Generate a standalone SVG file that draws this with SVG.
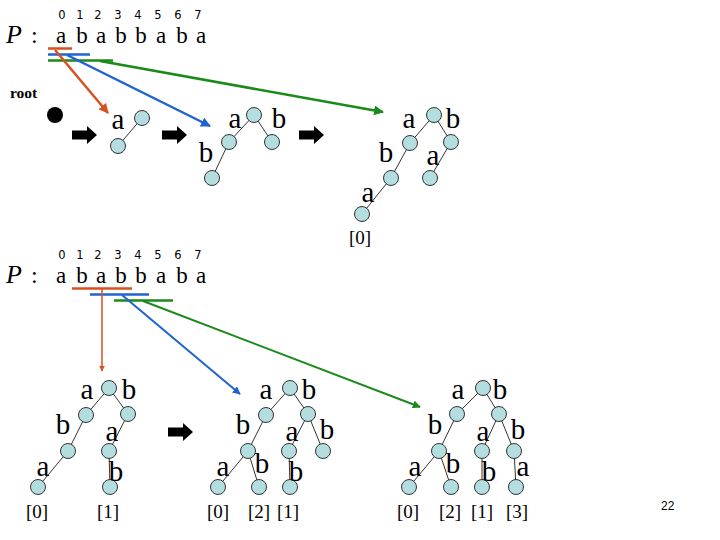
<svg xmlns="http://www.w3.org/2000/svg" xmlns:xlink="http://www.w3.org/1999/xlink" width="720" height="540" viewBox="0 0 720 540">
<style>
.dig{font-family:"DejaVu Sans","Liberation Sans",sans-serif;font-size:11.5px;fill:#000;text-anchor:middle}
.pl{font-family:"Liberation Serif",serif;font-size:26px;fill:#000;font-style:italic}
.col{font-family:"Liberation Serif",serif;font-size:24px;fill:#000}
.str{font-family:"Liberation Serif",serif;font-size:23px;fill:#000;text-anchor:middle}
.lt{font-family:"Liberation Serif",serif;font-size:29px;fill:#000;text-anchor:middle}
.lb{font-family:"Liberation Serif",serif;font-size:19px;fill:#000;text-anchor:middle}
.nd{fill:#b4dde0;stroke:#333;stroke-width:1}
.ed{stroke:#000;stroke-width:0.8;fill:none}
.red{stroke:#d8501e;stroke-width:2.5;fill:none}
.blue{stroke:#1f63d2;stroke-width:2.5;fill:none}
.green{stroke:#1a8a1a;stroke-width:2.5;fill:none}
.pg{font-family:"Liberation Sans",sans-serif;font-size:12px;fill:#000}
</style>
<defs>
<marker id="mr" viewBox="0 0 10 10" refX="9" refY="5" markerWidth="4" markerHeight="4" orient="auto" markerUnits="strokeWidth"><path d="M0,0 L10,5 L0,10 z" fill="#d8501e"/></marker>
<marker id="mb" viewBox="0 0 10 10" refX="9" refY="5" markerWidth="4" markerHeight="4" orient="auto" markerUnits="strokeWidth"><path d="M0,0 L10,5 L0,10 z" fill="#1f63d2"/></marker>
<marker id="mg" viewBox="0 0 10 10" refX="9" refY="5" markerWidth="4" markerHeight="4" orient="auto" markerUnits="strokeWidth"><path d="M0,0 L10,5 L0,10 z" fill="#1a8a1a"/></marker>
<path id="barrow" d="M0,-4.5 L15,-4.5 L15,-9 L25,0 L15,9 L15,4.5 L0,4.5 z" fill="#000"/>
</defs>

<!-- Top pattern -->
<g id="pattern-top">
<text class="dig" x="62" y="19">0</text><text class="dig" x="80" y="19">1</text><text class="dig" x="98" y="19">2</text><text class="dig" x="118" y="19">3</text><text class="dig" x="138" y="19">4</text><text class="dig" x="158" y="19">5</text><text class="dig" x="178" y="19">6</text><text class="dig" x="198" y="19">7</text>
<text class="pl" x="6" y="43">P</text><text class="col" x="31" y="43">:</text>
<text class="str" x="61" y="43">a</text><text class="str" x="82" y="43">b</text><text class="str" x="101" y="43">a</text><text class="str" x="121" y="43">b</text><text class="str" x="141" y="43">b</text><text class="str" x="161" y="43">a</text><text class="str" x="182" y="43">b</text><text class="str" x="201" y="43">a</text>
</g>

<text x="10" y="98" font-family="Liberation Serif,serif" font-size="15.5" font-weight="bold" fill="#000">root</text>

<!-- Bottom pattern -->
<g id="pattern-bottom">
<text class="dig" x="62" y="259">0</text><text class="dig" x="80" y="259">1</text><text class="dig" x="98" y="259">2</text><text class="dig" x="118" y="259">3</text><text class="dig" x="138" y="259">4</text><text class="dig" x="158" y="259">5</text><text class="dig" x="178" y="259">6</text><text class="dig" x="198" y="259">7</text>
<text class="pl" x="6" y="283">P</text><text class="col" x="31" y="283">:</text>
<text class="str" x="61" y="283">a</text><text class="str" x="82" y="283">b</text><text class="str" x="101" y="283">a</text><text class="str" x="121" y="283">b</text><text class="str" x="141" y="283">b</text><text class="str" x="161" y="283">a</text><text class="str" x="182" y="283">b</text><text class="str" x="201" y="283">a</text>
</g>

<g id="connectors">
<!-- top -->
<line class="red" x1="48" y1="48.5" x2="72" y2="48.5"/>
<line class="blue" x1="48" y1="54.5" x2="90" y2="54.5"/>
<line class="green" x1="48" y1="60.5" x2="113" y2="60.5"/>
<line class="red" x1="55" y1="50" x2="108" y2="113" marker-end="url(#mr)"/>
<line class="blue" x1="67" y1="55" x2="210" y2="126" marker-end="url(#mb)"/>
<line class="green" x1="100" y1="61" x2="383" y2="112" marker-end="url(#mg)"/>
<!-- bottom -->
<line class="red" x1="72" y1="288.5" x2="132" y2="288.5"/>
<line class="blue" x1="90" y1="294.5" x2="149" y2="294.5"/>
<line class="green" x1="114" y1="300.5" x2="173" y2="300.5"/>
<line x1="102" y1="289" x2="102" y2="371" stroke="#d8501e" stroke-width="1.5" marker-end="url(#mr)"/>
<line x1="122" y1="295" x2="240" y2="394" stroke="#1f63d2" stroke-width="2" marker-end="url(#mb)"/>
<line x1="143" y1="301" x2="420" y2="407" stroke="#1a8a1a" stroke-width="2" marker-end="url(#mg)"/>
<!-- block arrows -->
<use xlink:href="#barrow" href="#barrow" x="72" y="135"/>
<use xlink:href="#barrow" href="#barrow" x="162" y="135"/>
<use xlink:href="#barrow" href="#barrow" x="299" y="135"/>
<use xlink:href="#barrow" href="#barrow" x="168" y="432"/>
</g>

<g id="root-dot"><circle cx="55" cy="115" r="8" fill="#000"/></g>

<!-- Tree T1 -->
<g id="tree-t1">
<line class="ed" x1="142" y1="118" x2="118" y2="146"/>
<circle class="nd" cx="142" cy="118" r="7.5"/><circle class="nd" cx="118" cy="146" r="7.5"/>
<text class="lt" x="118" y="129">a</text>
</g>

<!-- Tree T2 -->
<g id="tree-t2">
<line class="ed" x1="254" y1="115" x2="229" y2="142"/><line class="ed" x1="254" y1="115" x2="272" y2="142"/><line class="ed" x1="229" y1="142" x2="212" y2="178"/>
<circle class="nd" cx="254" cy="115" r="7.5"/><circle class="nd" cx="229" cy="142" r="7.5"/><circle class="nd" cx="272" cy="142" r="7.5"/><circle class="nd" cx="212" cy="178" r="7.5"/>
<text class="lt" x="235" y="128">a</text><text class="lt" x="279" y="128">b</text><text class="lt" x="206" y="162">b</text>
</g>

<!-- Tree T3 -->
<g id="tree-t3">
<line class="ed" x1="434" y1="115" x2="410" y2="143"/><line class="ed" x1="434" y1="115" x2="451" y2="142"/><line class="ed" x1="410" y1="143" x2="391" y2="178"/><line class="ed" x1="451" y1="142" x2="430" y2="178"/><line class="ed" x1="391" y1="178" x2="362" y2="214"/>
<circle class="nd" cx="434" cy="115" r="7.5"/><circle class="nd" cx="410" cy="143" r="7.5"/><circle class="nd" cx="451" cy="142" r="7.5"/><circle class="nd" cx="391" cy="178" r="7.5"/><circle class="nd" cx="430" cy="178" r="7.5"/><circle class="nd" cx="362" cy="214" r="7.5"/>
<text class="lt" x="409" y="128">a</text><text class="lt" x="453" y="128">b</text><text class="lt" x="386" y="162">b</text><text class="lt" x="433" y="165">a</text><text class="lt" x="368" y="202">a</text>
<text class="lb" x="360" y="244">[0]</text>
</g>

<!-- Tree B1 -->
<g id="tree-b1">
<line class="ed" x1="109" y1="388" x2="86" y2="415"/><line class="ed" x1="109" y1="388" x2="128" y2="414"/><line class="ed" x1="86" y1="415" x2="68" y2="451"/><line class="ed" x1="128" y1="414" x2="109" y2="451"/><line class="ed" x1="68" y1="451" x2="38" y2="487"/><line class="ed" x1="109" y1="451" x2="110" y2="487"/>
<circle class="nd" cx="109" cy="388" r="7.5"/><circle class="nd" cx="86" cy="415" r="7.5"/><circle class="nd" cx="128" cy="414" r="7.5"/><circle class="nd" cx="68" cy="451" r="7.5"/><circle class="nd" cx="109" cy="451" r="7.5"/><circle class="nd" cx="38" cy="487" r="7.5"/><circle class="nd" cx="110" cy="487" r="7.5"/>
<text class="lt" x="87" y="399">a</text><text class="lt" x="129" y="399">b</text><text class="lt" x="63" y="434">b</text><text class="lt" x="112" y="441">a</text><text class="lt" x="43" y="476">a</text><text class="lt" x="116" y="481">b</text>
<text class="lb" x="37" y="518">[0]</text><text class="lb" x="108" y="518">[1]</text>
</g>

<!-- Tree B2 -->
<g id="tree-b2">
<line class="ed" x1="290" y1="388" x2="266" y2="415"/><line class="ed" x1="290" y1="388" x2="308" y2="414"/><line class="ed" x1="266" y1="415" x2="248" y2="451"/><line class="ed" x1="308" y1="414" x2="289" y2="451"/><line class="ed" x1="308" y1="414" x2="323" y2="451"/><line class="ed" x1="248" y1="451" x2="218" y2="487"/><line class="ed" x1="248" y1="451" x2="259" y2="487"/><line class="ed" x1="289" y1="451" x2="290" y2="487"/>
<circle class="nd" cx="290" cy="388" r="7.5"/><circle class="nd" cx="266" cy="415" r="7.5"/><circle class="nd" cx="308" cy="414" r="7.5"/><circle class="nd" cx="248" cy="451" r="7.5"/><circle class="nd" cx="289" cy="451" r="7.5"/><circle class="nd" cx="323" cy="451" r="7.5"/><circle class="nd" cx="218" cy="487" r="7.5"/><circle class="nd" cx="259" cy="487" r="7.5"/><circle class="nd" cx="290" cy="487" r="7.5"/>
<text class="lt" x="266" y="399">a</text><text class="lt" x="309" y="399">b</text><text class="lt" x="243" y="434">b</text><text class="lt" x="292" y="441">a</text><text class="lt" x="327" y="439">b</text><text class="lt" x="223" y="476">a</text><text class="lt" x="262" y="473">b</text><text class="lt" x="296" y="481">b</text>
<text class="lb" x="218" y="518">[0]</text><text class="lb" x="259" y="518">[2]</text><text class="lb" x="288" y="518">[1]</text>
</g>

<!-- Tree B3 -->
<g id="tree-b3">
<line class="ed" x1="483" y1="388" x2="457" y2="414"/><line class="ed" x1="483" y1="388" x2="499" y2="414"/><line class="ed" x1="457" y1="414" x2="439" y2="451"/><line class="ed" x1="499" y1="414" x2="482" y2="451"/><line class="ed" x1="499" y1="414" x2="514" y2="451"/><line class="ed" x1="439" y1="451" x2="409" y2="487"/><line class="ed" x1="439" y1="451" x2="451" y2="487"/><line class="ed" x1="482" y1="451" x2="482" y2="487"/><line class="ed" x1="514" y1="451" x2="516" y2="487"/>
<circle class="nd" cx="483" cy="388" r="7.5"/><circle class="nd" cx="457" cy="414" r="7.5"/><circle class="nd" cx="499" cy="414" r="7.5"/><circle class="nd" cx="439" cy="451" r="7.5"/><circle class="nd" cx="482" cy="451" r="7.5"/><circle class="nd" cx="514" cy="451" r="7.5"/><circle class="nd" cx="409" cy="487" r="7.5"/><circle class="nd" cx="451" cy="487" r="7.5"/><circle class="nd" cx="482" cy="487" r="7.5"/><circle class="nd" cx="516" cy="487" r="7.5"/>
<text class="lt" x="458" y="399">a</text><text class="lt" x="500" y="399">b</text><text class="lt" x="435" y="434">b</text><text class="lt" x="483" y="441">a</text><text class="lt" x="518" y="439">b</text><text class="lt" x="415" y="476">a</text><text class="lt" x="453" y="473">b</text><text class="lt" x="489" y="481">b</text><text class="lt" x="523" y="476">a</text>
<text class="lb" x="408" y="518">[0]</text><text class="lb" x="450" y="518">[2]</text><text class="lb" x="482" y="518">[1]</text><text class="lb" x="517" y="518">[3]</text>
</g>

<text class="pg" x="661" y="510">22</text>
</svg>
